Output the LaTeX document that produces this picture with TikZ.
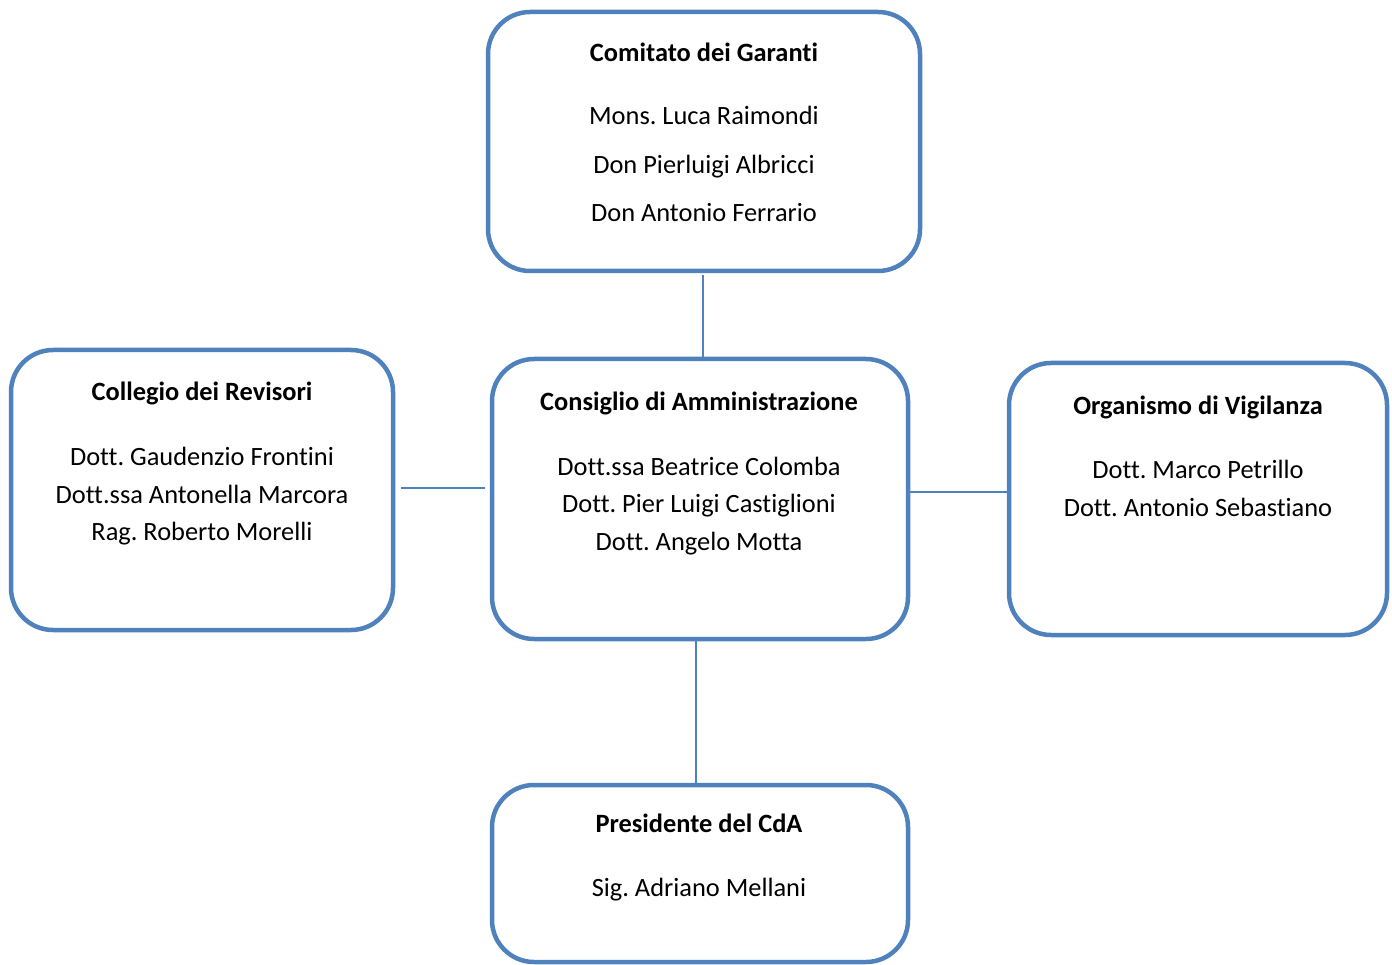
\documentclass[tikz,border=0pt]{standalone}
\usepackage{fontspec}
\setmainfont{Carlito}[Ligatures={NoCommon}]
\definecolor{boxblue}{HTML}{4F81BD}
\frenchspacing
\begin{document}
\begin{tikzpicture}[x=1pt,y=-1pt,
  orgbox/.style={draw=boxblue,line width=4.5pt,rounded corners=42pt},
  conn/.style={draw=boxblue,line width=2pt},
  ttl/.style={anchor=base,font=\fontsize{26.4}{30}\selectfont\bfseries,inner sep=0pt},
  txt/.style={anchor=base,font=\fontsize{26.4}{30}\selectfont,inner sep=0pt}]
\useasboundingbox (0,0) rectangle (1392,965);
% boxes
\draw[orgbox] (488,12) rectangle (920,271);
\draw[orgbox] (11,350) rectangle (393,630);
\draw[orgbox] (492,359) rectangle (908,639);
\draw[orgbox] (1009,363) rectangle (1387,635);
\draw[orgbox] (492,785) rectangle (908,962);
% connector anchors
\coordinate (ct) at (703,275);
\coordinate (cb) at (703,357);
\coordinate (ll) at (401,488);
\coordinate (lr) at (485,488);
\coordinate (rl) at (908,492);
\coordinate (rr) at (1008,492);
\coordinate (bt) at (696,641);
\coordinate (bb) at (696,783);
\draw[conn] (ct) -- (cb);
\draw[conn] (ll) -- (lr);
\draw[conn] (rl) -- (rr);
\draw[conn] (bt) -- (bb);
% Comitato
\node[ttl] (g0) at (704,62) {Comitato dei Garanti};
\node[txt] (g1) at (704,125) {Mons. Luca Raimondi};
\node[txt] (g2) at (704,174) {Don Pierluigi Albricci};
\node[txt] (g3) at (704,222) {Don Antonio Ferrario};
% Collegio
\node[ttl] (r0) at (202,401) {Collegio dei Revisori};
\node[txt] (r1) at (202,465) {Dott. Gaudenzio Frontini};
\node[txt] (r2) at (202,503) {Dott.ssa Antonella Marcora};
\node[txt] (r3) at (202,540) {Rag. Roberto Morelli};
% Consiglio
\node[ttl] (c0) at (699,410) {Consiglio di Amministrazione};
\node[txt] (c1) at (699,475) {Dott.ssa Beatrice Colomba};
\node[txt] (c2) at (699,512) {Dott. Pier Luigi Castiglioni};
\node[txt] (c3) at (699,550) {Dott. Angelo Motta};
% Organismo
\node[ttl] (o0) at (1198,414) {Organismo di Vigilanza};
\node[txt] (o1) at (1198,478) {Dott. Marco Petrillo};
\node[txt] (o2) at (1198,516) {Dott. Antonio Sebastiano};
% Presidente
\node[ttl] (p0) at (699,832) {Presidente del CdA};
\node[txt] (p1) at (699,896) {Sig. Adriano Mellani};
\end{tikzpicture}
\end{document}
